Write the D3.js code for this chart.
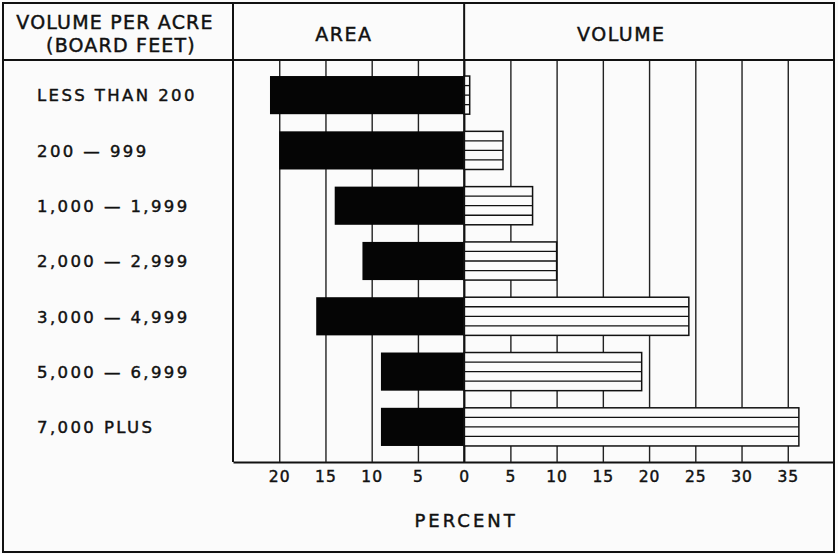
<!DOCTYPE html>
<html>
<head>
<meta charset="utf-8">
<script src="https://cdn.jsdelivr.net/npm/d3@7"></script>
<style>
  body { margin: 0; background: #fbfbfb; }
  text { font-family: "DejaVu Sans", sans-serif; fill: #111; stroke: #111; stroke-width: 0.45px; }
</style>
</head>
<body>
<div id="chart-area"></div>
<script>
// volume classes (rows), percent of area and percent of volume
var categories = ["LESS THAN 200", "200 — 999", "1,000 — 1,999", "2,000 — 2,999",
                  "3,000 — 4,999", "5,000 — 6,999", "7,000 PLUS"]
var areaPct = [21, 20, 14, 11, 16, 9, 9]
var volumePct = [0.6, 4.2, 7.4, 10, 24.3, 19.2, 36.2]
var tickValues = [-20, -15, -10, -5, 0, 5, 10, 15, 20, 25, 30, 35]

var W = 838, H = 554
var frame = { left: 3, top: 3, right: 834, bottom: 552 }
var plotTop = 60, plotBottom = 462

var svg = d3.select("#chart-area").append("svg")
    .attr("width", W)
    .attr("height", H)

var x = d3.scaleLinear()
    .domain([-25, 40])
    .range([233, frame.right])

var y = d3.scaleBand()
    .domain(categories)
    .range([plotTop, plotBottom])
    .paddingInner(0.31)
    .paddingOuter(0.29)

var ink = "#111"

// grid lines + tick labels from the axis
var xAxisCall = d3.axisBottom(x)
    .tickValues(tickValues)
    .tickSizeInner(-(plotBottom - plotTop))
    .tickSizeOuter(0)
    .tickPadding(9)
    .tickFormat(function(d) { return Math.abs(d) })

var xAxis = svg.append("g")
    .attr("class", "x axis")
    .attr("transform", "translate(0," + plotBottom + ")")
    .call(xAxisCall)

xAxis.select(".domain")
    .attr("stroke", ink)
    .attr("stroke-width", 2)
xAxis.selectAll(".tick line")
    .attr("stroke", "#222")
    .attr("stroke-width", 1.4)
xAxis.selectAll(".tick text")
    .attr("font-size", "15.5px")
    .attr("letter-spacing", "1px")
    .attr("fill", ink)
    .style("font-family", "DejaVu Sans, sans-serif")

// area bars (black, to the left)
svg.selectAll("rect.area")
    .data(areaPct)
  .enter().append("rect")
    .attr("class", "area")
    .attr("x", function(d) { return x(-d) })
    .attr("y", function(d, i) { return y(categories[i]) })
    .attr("width", function(d) { return x(0) - x(-d) })
    .attr("height", y.bandwidth())
    .attr("fill", "#050505")

// volume bars (white with 4 horizontal strips)
var vol = svg.selectAll("g.volume")
    .data(volumePct)
  .enter().append("g")
    .attr("class", "volume")
    .attr("transform", function(d, i) { return "translate(" + x(0) + "," + y(categories[i]) + ")" })

vol.append("rect")
    .attr("width", function(d) { return x(d) - x(0) })
    .attr("height", y.bandwidth())
    .attr("fill", "#fbfbfb")
    .attr("stroke", ink)
    .attr("stroke-width", 1.5)

vol.each(function(d) {
  var g = d3.select(this)
  for (var k = 1; k < 4; k++) {
    g.append("line")
      .attr("x1", 0)
      .attr("x2", x(d) - x(0))
      .attr("y1", y.bandwidth() * k / 4)
      .attr("y2", y.bandwidth() * k / 4)
      .attr("stroke", ink)
      .attr("stroke-width", 1.3)
  }
})

// frame and dividers
svg.append("rect")
    .attr("x", frame.left)
    .attr("y", frame.top)
    .attr("width", frame.right - frame.left)
    .attr("height", frame.bottom - frame.top)
    .attr("fill", "none")
    .attr("stroke", ink)
    .attr("stroke-width", 2)

svg.append("line")
    .attr("x1", frame.left).attr("x2", frame.right)
    .attr("y1", plotTop).attr("y2", plotTop)
    .attr("stroke", ink).attr("stroke-width", 2)

svg.append("line")
    .attr("x1", x(-25)).attr("x2", x(-25))
    .attr("y1", frame.top).attr("y2", plotBottom)
    .attr("stroke", ink).attr("stroke-width", 2)

svg.append("line")
    .attr("x1", x(0)).attr("x2", x(0))
    .attr("y1", frame.top).attr("y2", plotBottom)
    .attr("stroke", ink).attr("stroke-width", 2)

// headers
svg.append("text")
    .attr("x", 115)
    .attr("y", 29)
    .attr("text-anchor", "middle")
    .attr("font-size", "19px")
    .attr("letter-spacing", "1.2px")
    .text("VOLUME PER ACRE")

svg.append("text")
    .attr("x", 121)
    .attr("y", 52)
    .attr("text-anchor", "middle")
    .attr("font-size", "19px")
    .attr("letter-spacing", "1.2px")
    .text("(BOARD FEET)")

svg.append("text")
    .attr("x", x(-13))
    .attr("y", 41)
    .attr("text-anchor", "middle")
    .attr("font-size", "19px")
    .attr("letter-spacing", "1.5px")
    .text("AREA")

svg.append("text")
    .attr("x", x(17))
    .attr("y", 41)
    .attr("text-anchor", "middle")
    .attr("font-size", "19px")
    .attr("letter-spacing", "1.5px")
    .text("VOLUME")

// row labels
svg.selectAll("text.cat")
    .data(categories)
  .enter().append("text")
    .attr("class", "cat")
    .attr("x", 37)
    .attr("y", function(d) { return y(d) + y.bandwidth() / 2 })
    .attr("dy", "0.38em")
    .attr("font-size", "16.5px")
    .attr("letter-spacing", "2.4px")
    .text(function(d) { return d })

svg.append("text")
    .attr("x", x(0) + 2)
    .attr("y", 527)
    .attr("text-anchor", "middle")
    .attr("font-size", "18px")
    .attr("letter-spacing", "3px")
    .text("PERCENT")
</script>
</body>
</html>
